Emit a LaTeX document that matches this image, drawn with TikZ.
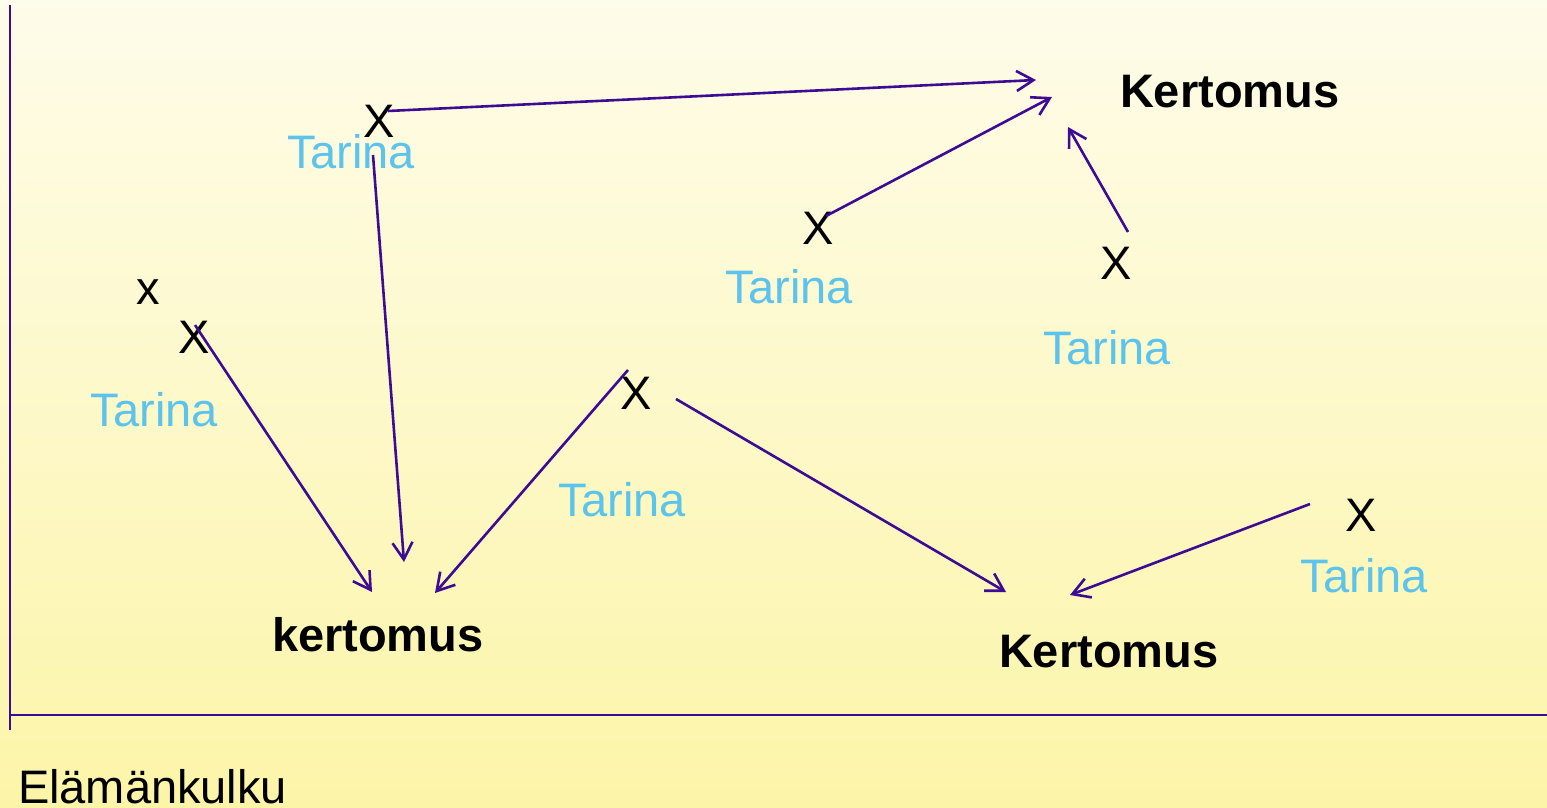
\documentclass[tikz,border=0pt]{standalone}
\usepackage{fontspec}
\setmainfont{Liberation Sans}
\usetikzlibrary{arrows.meta}
\definecolor{linkcol}{RGB}{62,12,148}
\definecolor{storycol}{RGB}{92,196,236}
\definecolor{bgtop}{RGB}{254,252,234}
\definecolor{bgbot}{RGB}{252,245,168}
\tikzset{
  lbl/.style={inner sep=0pt, outer sep=0pt, anchor=base west,
              font=\fontsize{47}{56}\selectfont},
  story/.style={lbl, text=storycol},
  evt/.style={lbl},
  tale/.style={lbl, font=\fontsize{47}{56}\selectfont\bfseries},
  link/.style={linkcol, line width=2.6pt,
               -{Straight Barb[length=17pt,width=20pt,line width=2.6pt]}},
  axisline/.style={linkcol, line width=2.6pt}
}
\begin{document}
\begin{tikzpicture}[x=1pt,y=-1pt]
  % background
  \useasboundingbox (0,0) rectangle (1547,808);
  \shade[top color=bgtop, bottom color=bgbot] (0,0) rectangle (1547,808);

  % axes
  \coordinate (ytop) at (10,5);
  \coordinate (ybot) at (10,730);
  \coordinate (xleft) at (10,715);
  \coordinate (xright) at (1547,715);
  \draw[axisline] (ytop) -- (ybot);
  \draw[axisline] (xleft) -- (xright);

  % results
  \node[tale] (kt) at (1120,107) {Kertomus};
  \node[tale] (kl) at (272,651) {kertomus};
  \node[tale] (kb) at (999,667) {Kertomus};

  % events and stories
  \node[story] (t1) at (287,168) {Tarina};
  \node[evt]   (x1) at (363,137) {X};
  \node[evt]   (x2) at (802,244) {X};
  \node[story] (t2) at (725,303) {Tarina};
  \node[evt]   (x3) at (1100,279) {X};
  \node[story] (t3) at (1043,364) {Tarina};
  \node[evt]   (x0) at (136,304) {x};
  \node[evt]   (x4) at (178,353) {X};
  \node[story] (t4) at (90,426) {Tarina};
  \node[evt]   (x5) at (620,409) {X};
  \node[story] (t5) at (558,516) {Tarina};
  \node[evt]   (x6) at (1345,531) {X};
  \node[story] (t6) at (1300,592) {Tarina};

  \node[lbl] (life) at (18,803) {Elämänkulku};

  % arrow ends
  \coordinate (a1s) at (388,111);  \coordinate (a1e) at (1036,80);
  \coordinate (a2s) at (826,216);  \coordinate (a2e) at (1052,97);
  \coordinate (a3s) at (1128,232); \coordinate (a3e) at (1068,127);
  \coordinate (a4s) at (373,155);  \coordinate (a4e) at (404,562);
  \coordinate (a5s) at (195,325);  \coordinate (a5e) at (372,592);
  \coordinate (a6s) at (628,370);  \coordinate (a6e) at (435,593);
  \coordinate (a7s) at (676,399);  \coordinate (a7e) at (1006,592);
  \coordinate (a8s) at (1310,504); \coordinate (a8e) at (1070,595);

  \draw[link] (a1s) -- (a1e);
  \draw[link] (a2s) -- (a2e);
  \draw[link] (a3s) -- (a3e);
  \draw[link] (a4s) -- (a4e);
  \draw[link] (a5s) -- (a5e);
  \draw[link] (a6s) -- (a6e);
  \draw[link] (a7s) -- (a7e);
  \draw[link] (a8s) -- (a8e);
\end{tikzpicture}
\end{document}
